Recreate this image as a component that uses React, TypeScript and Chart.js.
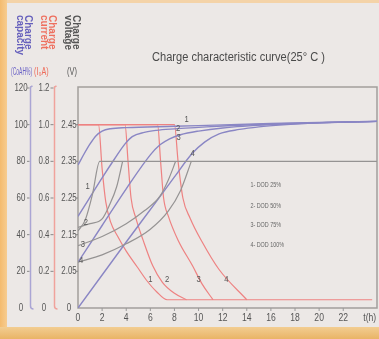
import React, { useEffect, useRef } from "react";
import { Chart, registerables } from "chart.js";

Chart.register(...registerables);

// ---- tick labels ----
const hourTicks = [0, 2, 4, 6, 8, 10, 12, 14, 16, 18, 20, 22];
const hourUnit = "t(h)";
const capacityTicks = ["0", "20", "40", "60", "80", "100", "120"];
const currentTicks = ["0", "0.2", "0.4", "0.6", "0.8", "1.0", "1.2"];
const voltageTicks = ["0", "2.05", "2.15", "2.25", "2.35", "2.45"];
const dodNames = ["1- DOD 25%", "2- DOD 50%", "3- DOD 75%", "4- DOD 100%"];
const curveNames = ["1", "2", "3", "4"];

// ---- charge capacity (%), [hour, value] ----
const capacity1 = [[0, 78], [0.5, 84], [1, 89.5], [1.5, 94], [2, 96.5], [2.7, 97.8], [4, 98.4], [8, 99.1], [12, 99.9], [16, 100.6], [20, 101.2], [24.8, 101.8]];
const capacity2 = [[0, 50], [1, 60.5], [2, 71], [3, 81], [3.9, 89.5], [4.5, 93.5], [5.5, 95.8], [6.5, 96.9], [8, 97.7], [10, 98.5], [12, 99.3], [16, 100.4], [20, 101.1], [24.8, 101.8]];
const capacity3 = [[0, 25], [2, 45], [4, 65], [6, 83.5], [6.8, 89], [7.6, 92.3], [8.5, 94.5], [10, 96.5], [12, 98.2], [16, 100], [20, 101], [24.8, 101.8]];
const capacity4 = [[0, 0], [2, 18], [4, 36], [6.6, 59], [8, 71.5], [9.5, 84.5], [10.5, 90.5], [11.7, 95], [13.4, 97.4], [15, 98.8], [17, 99.9], [20, 101], [24.8, 101.8]];

// ---- charge current, [hour, value] ----
const current1 = [[0, 1], [1.7, 1], [2, 0.76], [2.3, 0.58], [2.7, 0.47], [3.3, 0.39], [4, 0.31], [4.9, 0.225], [5.7, 0.15], [6.5, 0.09], [7.4, 0.045], [24.4, 0.045]];
const current2 = [[0, 1], [3.9, 1], [4.15, 0.8], [4.4, 0.6], [4.8, 0.49], [5.4, 0.37], [6.2, 0.23], [7, 0.14], [8, 0.08], [9, 0.045]];
const current3 = [[0, 1], [6.6, 1], [6.85, 0.8], [7.1, 0.6], [7.5, 0.5], [8.3, 0.37], [9.5, 0.23], [10.3, 0.13], [11.2, 0.045]];
const current4 = [[0, 1], [8, 1], [8.3, 0.8], [8.7, 0.6], [9.3, 0.49], [10.3, 0.36], [11.7, 0.21], [14, 0.045]];

// ---- charge voltage (V), [hour, value] ----
const voltage1 = [[0, 2.16], [0.6, 2.19], [1.2, 2.26], [1.8, 2.35], [24.8, 2.35]];
const voltage2 = [[0, 2.17], [1, 2.18], [2, 2.193], [2.6, 2.23], [3.2, 2.28], [3.7, 2.35]];
const voltage3 = [[0, 2.12], [2, 2.145], [4, 2.18], [5.5, 2.215], [6.8, 2.255], [7.5, 2.3], [8.1, 2.35]];
const voltage4 = [[0, 2.075], [2, 2.095], [4, 2.125], [6, 2.165], [7.5, 2.215], [8.5, 2.27], [9.4, 2.35]];

// curve number annotations, [hour, capacity-scale value]
const leftMarks = [[0.8, 66], [0.66, 46.5], [0.4, 34.5], [0.25, 26]];
const topMarks = [[9.0, 103], [8.3, 98], [8.35, 93], [9.5, 84.5]];
const currentMarks = [[6.0, 15.5], [7.4, 15.5], [10.0, 15.5], [12.3, 15.5]];
const dodPos = [[14.3, 67], [14.3, 55.6], [14.3, 45.3], [14.3, 34.4]];

const BLUE = "#8a86c4";
const RED = "#ee8282";
const GRAY = "#959393";

const toCap = (v: number) => v;
const toCur = (v: number) => v * 100;
const toVolt = (v: number) => (v <= 0 ? 0 : (v - 1.95) * 200);

function series(arr: number[][], f: (v: number) => number, color: string, w = 1.2) {
  return {
    data: arr.map(([t, v]) => ({ x: t, y: f(v) })),
    borderColor: color,
    borderWidth: w,
    pointRadius: 0,
    fill: false,
    cubicInterpolationMode: "monotone" as const,
  };
}

function txt(ctx: CanvasRenderingContext2D, s: string, x: number, y: number, size: number, color: string, align: CanvasTextAlign = "center", sx = 0.75, weight = "normal") {
  ctx.save();
  ctx.translate(x, y);
  ctx.scale(sx, 1);
  ctx.font = `${weight} ${size}px "Liberation Sans", Arial, sans-serif`;
  ctx.fillStyle = color;
  ctx.textAlign = align;
  ctx.textBaseline = "middle";
  ctx.fillText(s, 0, 0);
  ctx.restore();
}

function vtxt(ctx: CanvasRenderingContext2D, s: string, x: number, y: number, size: number, color: string) {
  ctx.save();
  ctx.translate(x, y);
  ctx.rotate(Math.PI / 2);
  ctx.font = `bold ${size}px "Liberation Sans", Arial, sans-serif`;
  ctx.fillStyle = color;
  ctx.textAlign = "left";
  ctx.textBaseline = "middle";
  ctx.fillText(s, 0, 0);
  ctx.restore();
}

const decor = {
  id: "decor",
  beforeDraw(chart: any) {
    const ctx = chart.ctx as CanvasRenderingContext2D;
    const W = chart.width, H = chart.height;
    ctx.save();
    ctx.fillStyle = "#ece8e6";
    ctx.fillRect(0, 0, W, H);
    ctx.fillStyle = "#f4d3a8";
    ctx.fillRect(0, 0, W, 3);
    const gl = ctx.createLinearGradient(0, 0, 8, 0);
    gl.addColorStop(0, "#f4bb6e");
    gl.addColorStop(1, "#f7cf96");
    ctx.fillStyle = gl;
    ctx.fillRect(0, 0, 7, H);
    const gb = ctx.createLinearGradient(0, 326, 0, H);
    gb.addColorStop(0, "#f3cf95");
    gb.addColorStop(1, "#e9b466");
    ctx.fillStyle = gb;
    ctx.fillRect(0, 327, W, H - 327);
    ctx.restore();
  },
  beforeDatasetsDraw(chart: any) {
    const ctx = chart.ctx as CanvasRenderingContext2D;
    const a = chart.chartArea;
    ctx.save();
    ctx.strokeStyle = "#a29e9c";
    ctx.lineWidth = 1.5;
    ctx.strokeRect(a.left, a.top - 1, a.right - a.left, a.bottom - a.top + 1);
    ctx.restore();
  },
  afterDatasetsDraw(chart: any) {
    const ctx = chart.ctx as CanvasRenderingContext2D;
    const xs = chart.scales.x, ys = chart.scales.y;
    const a = chart.chartArea;
    ctx.save();
    // title
    const title = "Charge characteristic curve(25\u00b0 C )";
    ctx.font = `12px "Liberation Sans", Arial, sans-serif`;
    const tw = ctx.measureText(title).width;
    txt(ctx, title, 152, 58, 12, "#4a4a4a", "left", 173 / tw);

    // rotated headers
    vtxt(ctx, "Charge", 28, 15, 10, "#6660bc");
    vtxt(ctx, "capacity", 20, 15, 10, "#6660bc");
    vtxt(ctx, "Charge", 52, 15, 10, "#ee6f5e");
    vtxt(ctx, "current", 44, 15, 10, "#ee6f5e");
    vtxt(ctx, "Charge", 76, 15, 10, "#555");
    vtxt(ctx, "voltage", 68, 15, 10, "#555");
    txt(ctx, "(CoAH%)", 11, 72, 10, "#6a62c6", "left", 0.5);
    txt(ctx, "(I\u2080A)", 34, 72, 10, "#ee6a58", "left", 0.72);
    txt(ctx, "(V)", 67, 72, 10, "#555", "left", 0.75);

    // axis lines
    const yTop = ys.getPixelForValue(120) - 2;
    const yBot = ys.getPixelForValue(0) - 2;
    const drawAxis = (x: number, color: string) => {
      ctx.strokeStyle = color;
      ctx.lineWidth = 1.5;
      ctx.beginPath();
      ctx.moveTo(x + 2, yTop);
      ctx.lineTo(x, yTop + 1);
      ctx.lineTo(x, yBot);
      ctx.quadraticCurveTo(x, yBot + 3, x + 3, yBot + 3);
      ctx.stroke();
    };
    drawAxis(30.5, "#aaa5d4");
    drawAxis(54.5, "#f0a29c");

    // left tick labels
    capacityTicks.forEach((s, i) => {
      const y = ys.getPixelForValue(i * 20);
      txt(ctx, s, 21, y, 11, "#555", "center", 0.72);
      if (i > 0) {
        ctx.strokeStyle = "#888";
        ctx.lineWidth = 1;
        ctx.beginPath(); ctx.moveTo(27, y); ctx.lineTo(29.5, y); ctx.stroke();
      }
    });
    currentTicks.forEach((s, i) => {
      const y = ys.getPixelForValue(i * 20);
      txt(ctx, s, 44, y, 11, "#555", "center", 0.72);
      if (i > 0) {
        ctx.strokeStyle = "#888";
        ctx.lineWidth = 1;
        ctx.beginPath(); ctx.moveTo(50.5, y); ctx.lineTo(53.5, y); ctx.stroke();
      }
    });
    voltageTicks.forEach((s, i) => {
      const y = ys.getPixelForValue(i * 20);
      txt(ctx, s, 69, y, 11, "#555", "center", 0.72);
      if (i > 0) {
        ctx.strokeStyle = "#888";
        ctx.lineWidth = 1;
        ctx.beginPath(); ctx.moveTo(75.5, y); ctx.lineTo(78, y); ctx.stroke();
      }
    });

    // x ticks
    hourTicks.forEach((t) => {
      const x = xs.getPixelForValue(t);
      txt(ctx, String(t), x, 318, 11, "#555", "center", 0.78);
      if (t > 0) {
        ctx.strokeStyle = "#999";
        ctx.lineWidth = 1;
        ctx.beginPath(); ctx.moveTo(x, a.bottom); ctx.lineTo(x, a.bottom + 3); ctx.stroke();
      }
    });
    txt(ctx, hourUnit, xs.getPixelForValue(24.2), 318, 11, "#555", "center", 0.78);

    // curve numbers
    const mark = (pts: number[][]) => pts.forEach(([t, v], i) => {
      txt(ctx, curveNames[i], xs.getPixelForValue(t), ys.getPixelForValue(v), 9, "#555", "center", 0.85);
    });
    mark(leftMarks);
    mark(topMarks);
    mark(currentMarks);

    // DOD legend
    dodNames.forEach((s, i) => {
      const [t, v] = dodPos[i];
      txt(ctx, s, xs.getPixelForValue(t), ys.getPixelForValue(v), 7.5, "#666", "left", 0.72);
    });
    ctx.restore();
  },
};

export default function App() {
  const ref = useRef<HTMLCanvasElement | null>(null);
  useEffect(() => {
    if (!ref.current) return;
    const chart = new Chart(ref.current, {
      type: "line",
      data: {
        datasets: [
          series(voltage1, toVolt, GRAY),
          series(voltage2, toVolt, GRAY),
          series(voltage3, toVolt, GRAY),
          series(voltage4, toVolt, GRAY),
          series(capacity1, toCap, BLUE, 1.4),
          series(capacity2, toCap, BLUE, 1.4),
          series(capacity3, toCap, BLUE, 1.4),
          series(capacity4, toCap, BLUE, 1.4),
          series(current1, toCur, RED),
          series(current2, toCur, RED),
          series(current3, toCur, RED),
          series(current4, toCur, RED),
        ] as any,
      },
      options: {
        animation: false,
        responsive: false,
        devicePixelRatio: 1,
        layout: { padding: { left: 78, right: 2, top: 88, bottom: 31 } },
        scales: {
          x: { type: "linear", min: 0, max: 24.8, display: false },
          y: { type: "linear", min: 0, max: 120, display: false },
        },
        plugins: { legend: { display: false }, tooltip: { enabled: false } },
      },
      plugins: [decor],
    });
    return () => chart.destroy();
  }, []);
  return (
    <div style={{ position: "fixed", left: 0, top: 0, width: 379, height: 339 }}>
      <canvas ref={ref} width={379} height={339} style={{ width: 379, height: 339, display: "block" }} />
    </div>
  );
}
